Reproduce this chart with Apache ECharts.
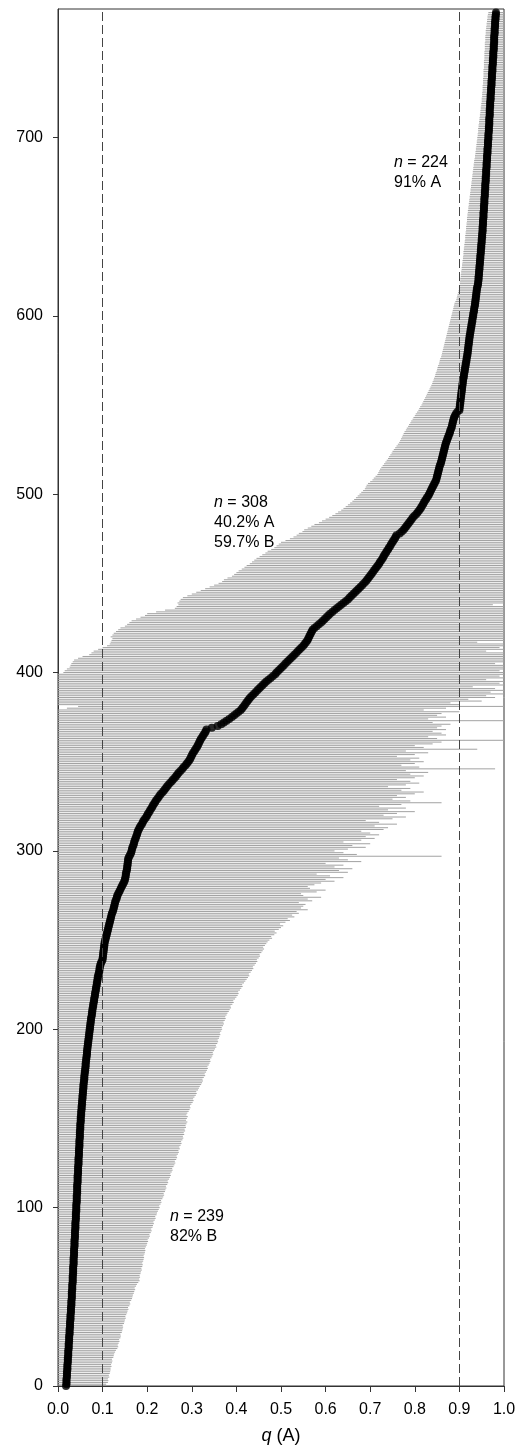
<!DOCTYPE html>
<html><head><meta charset="utf-8">
<script src="https://cdn.jsdelivr.net/npm/echarts@6/dist/echarts.min.js"></script>
<style>html,body{margin:0;padding:0;background:#fff}#c{width:519px;height:1450px}</style>
</head><body><div id="c"></div>
<script>
// Tick labels
const xTicks = [0,0.1,0.2,0.3,0.4,0.5,0.6,0.7,0.8,0.9,1.0];
const yTicks = [0,100,200,300,400,500,600,700];
const thresholds = [0.1, 0.9];

// Sorted membership q(A) per individual, in thousandths (index = rank 0..770)
const qMilli = [
18,19,19,19,19,20,20,20,20,21,
21,21,21,22,22,22,22,23,23,23,
23,24,24,24,24,25,25,25,25,26,
26,26,26,27,27,27,27,28,28,28,
28,29,29,29,29,30,30,30,30,31,
31,31,31,31,32,32,32,32,33,33,
33,33,33,34,34,34,34,34,35,35,
35,35,35,36,36,36,36,36,37,37,
37,37,37,38,38,38,38,38,39,39,
39,39,39,40,40,40,40,40,41,41,
41,41,41,42,42,42,42,42,43,43,
43,43,43,43,44,44,44,44,44,45,
45,45,45,45,46,46,46,46,46,47,
47,47,47,47,48,48,48,48,48,49,
49,49,49,49,50,50,50,50,51,51,
51,51,52,52,52,53,53,53,54,54,
54,55,55,55,56,56,56,57,57,57,
58,58,59,59,59,60,60,61,61,62,
62,62,63,63,64,64,65,65,65,66,
66,67,67,68,68,69,69,70,70,71,
71,72,72,73,73,74,74,75,76,76,
77,77,78,79,79,80,81,81,82,83,
83,84,85,85,86,87,87,88,89,89,
90,91,92,93,93,94,95,96,98,100,
100,101,101,102,102,103,103,104,104,105,
106,107,108,109,110,111,112,113,114,115,
116,117,118,119,120,121,123,124,125,126,
127,128,129,131,132,133,135,137,139,141,
143,145,147,149,150,151,152,152,153,154,
155,155,156,156,157,157,158,160,162,164,
165,166,167,169,170,171,172,174,175,177,
178,179,181,183,185,188,190,192,195,198,
200,202,205,207,210,212,214,217,219,222,
225,228,231,235,238,241,244,247,251,255,
258,262,265,268,271,275,279,282,286,289,
292,295,297,299,301,303,306,308,311,313,
315,317,319,321,324,326,329,331,333,345,
358,366,372,378,384,390,395,400,405,410,
413,416,419,422,425,428,431,435,439,443,
447,451,455,459,463,467,472,477,482,487,
490,494,498,502,506,510,514,518,522,526,
530,534,538,542,546,550,553,556,559,561,
563,565,567,569,571,575,580,585,590,594,
598,602,606,610,615,620,625,630,635,640,
645,650,654,658,662,666,670,674,678,682,
686,690,693,696,699,702,705,708,711,714,
717,720,722,725,728,730,732,735,737,740,
742,745,747,750,752,755,757,759,766,771,
775,778,781,784,787,790,793,796,800,804,
807,810,813,815,818,820,822,825,827,830,
832,834,836,838,840,842,844,846,848,849,
850,851,852,853,854,855,856,858,859,860,
861,862,863,864,865,866,867,868,869,870,
872,873,875,876,878,879,880,882,883,884,
885,886,887,888,890,892,895,900,900,901,
901,902,902,903,903,904,904,905,905,906,
906,907,907,908,908,909,910,910,911,912,
912,913,914,914,915,916,916,917,918,918,
919,919,920,920,921,921,922,922,923,923,
924,925,925,926,927,927,928,929,929,930,
931,931,932,933,933,934,935,935,936,936,
937,937,938,938,939,939,940,941,942,942,
943,943,943,944,944,944,945,945,945,946,
946,946,947,947,947,948,948,948,949,949,
949,950,950,950,951,951,951,952,952,952,
952,953,953,953,953,954,954,954,954,955,
955,955,955,956,956,956,956,957,957,957,
957,958,958,958,958,959,959,959,959,960,
960,960,960,961,961,961,961,962,962,962,
962,963,963,963,963,964,964,964,964,965,
965,965,965,966,966,966,966,967,967,967,
967,967,968,968,968,968,968,969,969,969,
969,970,970,970,970,971,971,971,971,972,
972,972,972,973,973,973,973,974,974,974,
974,975,975,975,975,976,976,976,976,977,
977,977,977,978,978,978,978,978,979,979,
979,979,980,980,980,980,981,981,981,982,982
];

// Lower bound of the probability interval, thousandths
const lowerMilli = [
0,0,0,0,0,0,0,0,0,0, 0,0,0,0,0,0,0,0,0,0, 0,0,0,0,0,0,0,0,0,0, 0,0,0,0,0,0,0,0,0,0,
0,0,0,0,0,0,0,0,0,0, 0,0,0,0,0,0,0,0,0,0, 0,0,0,0,0,0,0,0,0,0, 0,0,0,0,0,0,0,0,0,0,
0,0,0,0,0,0,0,0,0,0, 0,0,0,0,0,0,0,0,0,0, 0,0,0,0,0,0,0,0,0,0, 0,0,0,0,0,0,0,0,0,0,
0,0,0,0,0,0,0,0,0,0, 0,0,0,0,0,0,0,0,0,0, 0,0,0,0,0,0,0,0,0,0, 0,0,0,0,0,0,0,0,0,0,
0,0,0,0,0,0,0,0,0,0, 0,0,0,0,0,0,0,0,0,0, 0,0,0,0,0,0,0,0,0,0, 0,0,0,0,0,0,0,0,0,0,
0,0,0,0,0,0,0,0,0,0, 0,0,0,0,0,0,0,0,0,0, 0,0,0,0,0,0,0,0,0,0, 0,0,0,0,0,0,0,0,0,0,
0,0,0,0,0,0,0,0,0,0, 0,0,0,0,0,0,0,0,0,0, 0,0,0,0,0,0,0,0,0,0, 0,0,0,0,0,0,0,0,0,0,
0,0,0,0,0,0,0,0,0,0, 0,0,0,0,0,0,0,0,0,0, 0,0,0,0,0,0,0,0,0,0, 0,0,0,0,0,0,0,0,0,0,
0,0,0,0,0,0,0,0,0,0, 0,0,0,0,0,0,0,0,0,0, 0,0,0,0,0,0,0,0,0,0, 0,0,0,0,0,0,0,0,0,0,
0,0,0,0,0,0,0,0,0,0, 0,0,0,0,0,0,0,0,0,0,
20,45,0,0,0,0,0,0,0,0,
0,0,0,0,0,0,0,0,0,0,
12,15,20,26,28,30,33,36,45,55,
70,75,80,90,100,110,116,118,120,122,
118,122,125,130,135,140,150,155,160,165,
175,185,195,200,220,240,262,266,270,268,
272,275,280,290,300,310,320,330,340,350,
360,368,372,380,390,395,400,405,412,418,
423,430,435,440,445,452,458,465,470,478,
485,490,495,500,510,520,528,535,540,548,
552,560,568,575,585,592,600,608,615,622,
628,635,640,645,650,655,660,664,668,672,
676,680,684,688,690,692,695,700,705,708,
712,716,718,720,722,725,728,731,734,737,
740,742,745,748,750,753,756,759,762,765,
767,769,771,773,775,777,780,782,785,787,
790,792,795,797,800,802,805,808,810,812,
815,817,819,821,823,825,827,829,831,833,
835,837,839,840,842,843,845,846,847,849,
850,851,852,854,855,856,857,859,860,861,
862,863,864,865,866,867,868,869,870,871,
872,873,874,875,876,877,878,879,880,881,
882,883,884,885,886,887,888,889,891,893,
894,895,896,897,898,899,899,900,901,901,
902,902,903,903,904,904,905,905,906,906,
907,907,908,908,909,909,909,910,910,911,
911,912,912,913,913,913,914,914,915,915,
915,916,916,917,917,917,918,918,919,919,
920,920,921,921,922,922,923,923,924,924,
925,925,926,926,927,927,928,928,929,929,
930,930,931,931,932,932,933,933,934,935,
935,936,936,937,937,938,938,939,939,940,
940,941,941,942,942,942,943,943,944,944,
945,945,946,946,947,947,948,948,949,949,
950,950,950,951,951,951,952,952,952,952,
953,953,953,953,954,954,954,954,954,955,
955,955,955,955,956,956,956,956,956,957,
957,957,957,957,958,958,958,958,959,959,
959,960,960,961,961,962,962,963,963,964,965
];

// Upper bound of the probability interval, thousandths
const upperMilli = [
110,108,112,113,112,115,114,116,117,118,
118,120,119,121,122,121,124,125,126,128,
130,133,135,134,136,138,137,140,141,140,
143,144,145,146,145,148,149,150,152,151,
153,155,156,158,157,160,162,161,164,166,
167,168,170,171,173,172,175,177,180,183,
182,184,183,185,186,188,187,189,190,189,
191,192,193,192,194,195,196,195,197,199,
200,202,201,204,206,205,208,210,209,212,
213,215,214,217,219,218,221,222,224,226,
228,227,230,232,231,234,236,238,237,240,
241,243,242,245,247,246,249,251,253,252,
255,257,256,259,261,263,262,265,267,266,
269,271,270,273,272,275,277,276,279,281,
280,283,282,285,284,287,286,288,290,287,
289,291,288,290,293,295,297,296,299,302,
304,303,306,309,311,310,314,316,318,321,
323,325,324,327,330,329,332,334,336,335,
338,340,342,341,344,346,348,347,350,352,
355,354,357,359,358,361,362,364,363,366,
368,367,370,372,371,374,376,375,378,380,
383,385,388,387,391,394,393,397,400,403,
405,404,408,411,414,413,417,420,423,426,
429,428,432,435,438,437,441,444,447,446,
450,453,452,456,459,462,460,464,467,470,
474,480,478,485,490,486,495,500,505,498,
510,520,515,530,525,540,535,560,545,550,
555,540,570,560,590,550,545,580,600,565,
560,575,590,620,600,640,610,580,650,630,
660,620,640,600,680,650,630,860,670,640,
620,650,690,660,700,640,680,710,690,720,
700,680,730,740,710,760,720,690,750,780,
730,760,800,740,780,720,770,860,790,750,
780,760,800,820,770,790,740,780,810,790,
760,800,820,790,830,780,980,810,770,800,
820,790,810,760,800,830,780,940,820,800,
840,860,1000,850,830,870,860,840,870,850,
860,880,840,1000,830,870,850,860,900,820,
870,1000,900,880,950,920,980,960,1000,970,
1000,980,930,1000,990,1000,960,1000,990,1000,
1000,990,1000,1000,1000,980,1000,1000,1000,1000,
1000,1000,960,1000,990,1000,1000,940,1000,1000,
1000,1000,1000,1000,1000,1000,1000,1000,1000,1000, 1000,1000,1000,1000,1000,1000,1000,1000,975,1000,
1000,1000,1000,1000,1000,1000,1000,1000,1000,1000, 1000,1000,1000,1000,1000,1000,1000,1000,1000,1000,
1000,1000,1000,1000,1000,1000,1000,1000,1000,1000, 1000,1000,1000,1000,1000,1000,1000,1000,1000,1000,
1000,1000,1000,1000,1000,1000,1000,1000,1000,1000, 1000,1000,1000,1000,1000,1000,1000,1000,1000,1000,
1000,1000,1000,1000,1000,1000,1000,1000,1000,1000, 1000,1000,1000,1000,1000,1000,1000,1000,1000,1000,
1000,1000,1000,1000,1000,1000,1000,1000,1000,1000, 1000,1000,1000,1000,1000,1000,1000,1000,1000,1000,
1000,1000,1000,1000,1000,1000,1000,1000,1000,1000, 1000,1000,1000,1000,1000,1000,1000,1000,1000,1000,
1000,1000,1000,1000,1000,1000,1000,1000,1000,1000, 1000,1000,1000,1000,1000,1000,1000,1000,1000,1000,
1000,1000,1000,1000,1000,1000,1000,1000,1000,1000, 1000,1000,1000,1000,1000,1000,1000,1000,1000,1000,
1000,1000,1000,1000,1000,1000,1000,1000,1000,1000, 1000,1000,1000,1000,1000,1000,1000,1000,1000,1000,
1000,1000,1000,1000,1000,1000,1000,1000,1000,1000, 1000,1000,1000,1000,1000,1000,1000,1000,1000,1000,
1000,1000,1000,1000,1000,1000,1000,1000,1000,1000, 1000,1000,1000,1000,1000,1000,1000,1000,1000,1000,
1000,1000,1000,1000,1000,1000,1000,1000,1000,1000, 1000,1000,1000,1000,1000,1000,1000,1000,1000,1000,
1000,1000,1000,1000,1000,1000,1000,1000,1000,1000, 1000,1000,1000,1000,1000,1000,1000,1000,1000,1000,
1000,1000,1000,1000,1000,1000,1000,1000,1000,1000, 1000,1000,1000,1000,1000,1000,1000,1000,1000,1000,
1000,1000,1000,1000,1000,1000,1000,1000,1000,1000, 1000,1000,1000,1000,1000,1000,1000,1000,1000,1000,
1000,1000,1000,1000,1000,1000,1000,1000,1000,1000, 1000,1000,1000,1000,1000,1000,1000,1000,1000,1000,
1000,1000,1000,1000,1000,1000,1000,1000,1000,1000,1000
];

// Group annotations
const groupNotes = [
  { n: 224, lines: ['91% A'] },
  { n: 308, lines: ['40.2% A', '59.7% B'] },
  { n: 239, lines: ['82% B'] }
];

const FONT = '"Liberation Sans", Arial, Helvetica, sans-serif';
const N = qMilli.length;
const intervalData = [];
const pointData = [];
for (let i = 0; i < N; i++) {
  intervalData.push([lowerMilli[i] / 1000, upperMilli[i] / 1000, i]);
  pointData.push([qMilli[i] / 1000, i]);
}

const chart = echarts.init(document.getElementById('c'), null, { renderer: 'canvas' });

const notePos = [[394, 153], [214, 493], [170, 1207]];
const graphics = groupNotes.map(function (g, k) {
  return {
    type: 'text',
    x: notePos[k][0],
    y: notePos[k][1],
    z: 100,
    silent: true,
    style: {
      text: '{i|n} = ' + g.n + '\n' + g.lines.join('\n'),
      fontFamily: FONT, fontSize: 16, fill: '#000', lineHeight: 19.8,
      verticalAlign: 'top', align: 'left',
      rich: {
        i: { fontStyle: 'italic', fontFamily: FONT, fontSize: 16, lineHeight: 19.8, fill: '#000' }
      }
    }
  };
});

chart.setOption({
  animation: false,
  backgroundColor: '#fff',
  grid: { left: 58, right: 15, top: 9, bottom: 64, show: true, borderColor: '#333', borderWidth: 1, backgroundColor: 'transparent' },
  xAxis: {
    type: 'value', min: 0, max: 1, interval: 0.1,
    name: '{i|q} (A)', nameLocation: 'middle', nameGap: 41,
    nameTextStyle: { fontFamily: FONT, fontSize: 18, color: '#000',
      rich: { i: { fontStyle: 'italic', fontFamily: FONT, fontSize: 18, color: '#000' } } },
    axisLine: { show: true, lineStyle: { color: '#333', width: 1 } },
    axisTick: { show: true, inside: false, length: 6, lineStyle: { color: '#333' } },
    axisLabel: { fontFamily: FONT, fontSize: 16, color: '#000', margin: 16,
      formatter: function (v) { return v.toFixed(1); } },
    splitLine: { show: false }
  },
  yAxis: {
    type: 'value', min: 0, max: 772, interval: 100,
    axisLine: { show: true, lineStyle: { color: '#333', width: 1 } },
    axisTick: { show: true, inside: false, length: 5, lineStyle: { color: '#333' }, customValues: yTicks },
    axisLabel: { fontFamily: FONT, fontSize: 16, color: '#000', margin: 15, customValues: yTicks },
    splitLine: { show: false }
  },
  graphic: graphics,
  series: [
    {
      type: 'custom',
      z: 2,
      silent: true,
      clip: true,
      data: intervalData,
      encode: { x: [0, 1], y: 2 },
      renderItem: function (params, api) {
        const y = api.value(2);
        const a = api.coord([api.value(0), y]);
        const b = api.coord([api.value(1), y]);
        return {
          type: 'line',
          shape: { x1: a[0], y1: a[1], x2: b[0], y2: b[1] },
          style: { stroke: '#a2a2a2', lineWidth: 1 }
        };
      }
    },
    {
      type: 'line',
      z: 3,
      silent: true,
      data: [],
      markLine: {
        silent: true,
        symbol: ['none', 'none'],
        label: { show: false },
        lineStyle: { type: [9, 4], color: '#444', width: 1 },
        data: thresholds.map(function (t) { return { xAxis: t }; })
      }
    },
    {
      type: 'scatter',
      z: 4,
      silent: true,
      symbol: 'circle',
      symbolSize: 8,
      itemStyle: { color: '#000' },
      data: pointData
    }
  ]
});
</script>
</body></html>
